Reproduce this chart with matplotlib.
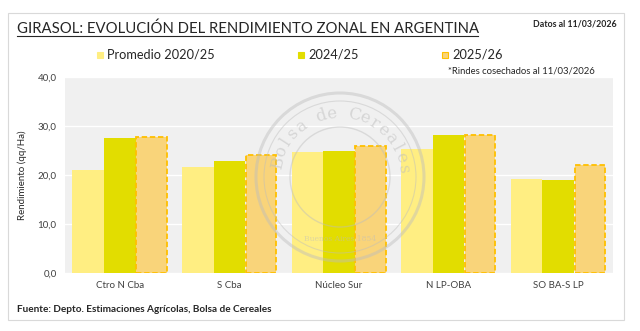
import matplotlib.pyplot as plt
from matplotlib.patches import Rectangle, Ellipse
import numpy as np

# Data
zonas = ['Ctro N Cba', 'S Cba', 'Núcleo Sur', 'N LP-OBA', 'SO BA-S LP']
promedio_2020_25 = [21.0, 21.6, 24.7, 25.3, 19.2]
campania_2024_25 = [27.5, 22.8, 25.0, 28.2, 19.0]
campania_2025_26 = [27.7, 24.0, 26.0, 28.2, 22.0]
series_labels = ['Promedio 2020/25', '2024/25', '2025/26']

c_prom = '#FFEE82'
c_2425 = '#E2DD00'
c_2526 = '#F9D47A'
c_edge = '#FFC000'
txt = '#262626'

plt.rcParams['font.family'] = ['Lato', 'DejaVu Sans']

fig = plt.figure(figsize=(6.4, 3.31), dpi=100)
W, H = 640, 331


def fx(px):
    return px / W


def fy(py):
    # py measured from top
    return 1 - py / H


# outer frame
fig.patches.append(Rectangle((fx(8), fy(320)), 616 / W, 307 / H,
                             transform=fig.transFigure, fill=False,
                             edgecolor='#d9d9d9', linewidth=0.8))

ax = fig.add_axes([fx(65), fy(273), 548 / W, 196 / H])
ax.set_facecolor('#f0f0f0')

x = np.arange(len(zonas))
w = 0.288
ax.bar(x - w, promedio_2020_25, w, color=c_prom, zorder=2)
ax.bar(x, campania_2024_25, w, color=c_2425, zorder=2)
ax.bar(x + w, campania_2025_26, w * 0.96, color=c_2526, edgecolor=c_edge,
       linestyle=(0, (3, 1.5)), linewidth=1.3, zorder=2)

ax.set_xlim(-0.5, len(zonas) - 0.5)
ax.set_ylim(0, 40)
ax.set_yticks([0, 10, 20, 30, 40])
ax.set_yticklabels(['0,0', '10,0', '20,0', '30,0', '40,0'])
ax.set_xticks(x)
ax.set_xticklabels(zonas)
ax.tick_params(length=0, labelsize=7, colors='#404040', pad=6)
ax.grid(axis='y', color='white', linewidth=1, zorder=1)
ax.set_axisbelow(True)
for s in ax.spines.values():
    s.set_visible(False)
ax.set_ylabel('Rendimiento (qq/Ha)', fontsize=7, color=txt, labelpad=8)

# faint seal watermark (Bolsa de Cereales)
cx, cy = 340, 177
wm = '#bdbdbd'
for r, lw in [(84, 2.2), (76, 0.8), (50, 1.0)]:
    fig.patches.append(Ellipse((fx(cx), fy(cy)), 2 * r / W, 2 * r / H,
                               transform=fig.transFigure, fill=False,
                               edgecolor=wm, linewidth=lw, alpha=0.45, zorder=5))
seal = 'Bolsa de Cereales'
angs = np.linspace(167, 8, len(seal))
for ch, a in zip(seal, angs):
    t = np.deg2rad(a)
    fig.text(fx(cx + 64 * np.cos(t)), fy(cy - 64 * np.sin(t)), ch,
             fontsize=12, family='DejaVu Serif', color=wm, alpha=0.5,
             ha='center', va='center', rotation=a - 90, zorder=5)
fig.text(fx(cx), fy(cy + 62), 'Buenos Aires 1854', fontsize=5.5,
         family='DejaVu Serif', color=wm, alpha=0.5, ha='center', va='center',
         zorder=5)

# title and notes
fig.text(fx(17), fy(29), 'GIRASOL: EVOLUCIÓN DEL RENDIMIENTO ZONAL EN ARGENTINA',
         fontsize=10.7, color=txt, ha='left', va='center')
fig.add_artist(plt.Line2D([fx(17), fx(478)], [fy(36), fy(36)],
                          color=txt, linewidth=0.8))
fig.text(fx(617), fy(24), 'Datos al 11/03/2026', fontsize=6.3,
         fontweight='bold', color=txt, ha='right', va='center')
fig.text(fx(448), fy(71), '*Rindes cosechados al 11/03/2026', fontsize=6.8,
         color=txt, ha='left', va='center')
fig.text(fx(17), fy(310), 'Fuente: Depto. Estimaciones Agrícolas, Bolsa de Cereales',
         fontsize=7.2, fontweight='bold', color=txt, ha='left', va='center')

# legend
leg_x = [97, 298, 442]
leg_colors = [c_prom, c_2425, c_2526]
for lx, lc, lab in zip(leg_x, leg_colors, series_labels):
    ec = c_edge if lab == '2025/26' else lc
    fig.patches.append(Rectangle((fx(lx), fy(58)), 6 / W, 6 / H,
                                 transform=fig.transFigure, facecolor=lc,
                                 edgecolor=ec, linewidth=0.8))
    fig.text(fx(lx + 10), fy(54.5), lab, fontsize=9.2, color=txt,
             ha='left', va='center')

plt.savefig('out.png', dpi=100)
